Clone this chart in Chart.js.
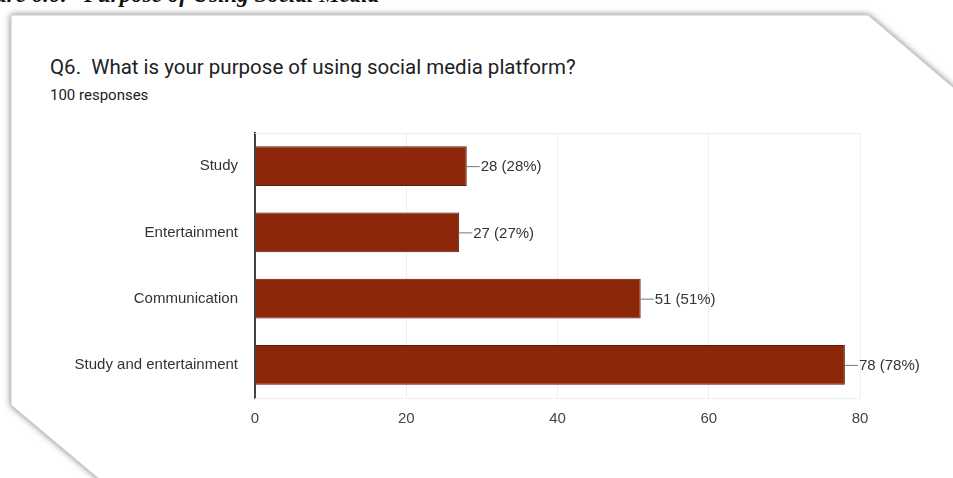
<!DOCTYPE html>
<html>
<head>
<meta charset="utf-8">
<script src="https://cdn.jsdelivr.net/npm/chart.js@4.4.1/dist/chart.umd.min.js"></script>
<style>
  html, body { margin: 0; padding: 0; background: #fff; }
  #wrap { position: relative; width: 953px; height: 478px; overflow: hidden; background: #fff; }
  #card { position: absolute; left: 0; top: 0; }
  .cap { position: absolute; top: -16px; font: italic bold 23px "Liberation Serif", serif; line-height: 22px; color: #111; white-space: nowrap; }
  #capPre { right: 885px; }
  #capMain { left: 84px; }
  #title { position: absolute; left: 50px; top: 55px; font: 20.5px Roboto, sans-serif; color: #202124; white-space: nowrap; }
  #subtitle { position: absolute; left: 50px; top: 86px; font: 15px Roboto, sans-serif; color: #202124; }
  #chartBox { position: absolute; left: 0; top: 0; width: 953px; height: 478px; }
</style>
</head>
<body>
<div id="wrap">
  <svg id="card" width="953" height="478">
    <defs>
      <filter id="shadow" x="-10%" y="-10%" width="120%" height="120%">
        <feDropShadow dx="0" dy="0" stdDeviation="3" flood-color="#444" flood-opacity="0.7"/>
      </filter>
    </defs>
    <polygon points="11,15 868,15 1200,297 1200,800 481,800 11,405" fill="#fff" stroke="#c8c8c8" stroke-width="1" filter="url(#shadow)"/>
  </svg>
  <div class="cap" id="capPre">Figure 6.6:</div>
  <div class="cap" id="capMain">Purpose of Using Social Media</div>
  <div id="title">Q6.&nbsp; What is your purpose of using social media platform?</div>
  <div id="subtitle">100 responses</div>
  <div id="chartBox"><canvas id="chart"></canvas></div>
</div>
<script>
const categories = ['Study', 'Entertainment', 'Communication', 'Study and entertainment'];
const counts = [28, 27, 51, 78];
const totalResponses = 100;
const xTicks = [0, 20, 40, 60, 80];

const labelFont = '"Liberation Sans", Arial, sans-serif';

// leader line + "n (p%)" label after each bar, like Google Forms
const valueLabels = {
  id: 'valueLabels',
  afterDatasetsDraw(chart) {
    const ctx = chart.ctx;
    const meta = chart.getDatasetMeta(0);
    ctx.save();
    ctx.font = '15px ' + labelFont;
    ctx.textBaseline = 'middle';
    meta.data.forEach((bar, i) => {
      const v = counts[i];
      const pct = Math.round(v / totalResponses * 100);
      ctx.strokeStyle = '#777';
      ctx.lineWidth = 1;
      ctx.beginPath();
      ctx.moveTo(bar.x, bar.y + 0.5);
      ctx.lineTo(bar.x + 13, bar.y + 0.5);
      ctx.stroke();
      ctx.fillStyle = '#333';
      ctx.fillText(v + ' (' + pct + '%)', bar.x + 14, bar.y + 1);
    });
    ctx.restore();
  }
};

// faint frame lines at top and bottom of plot area
const frameLines = {
  id: 'frameLines',
  beforeDatasetsDraw(chart) {
    const { ctx, chartArea } = chart;
    ctx.save();
    ctx.strokeStyle = '#eeeeee';
    ctx.lineWidth = 1;
    ctx.beginPath();
    ctx.moveTo(chartArea.left, chartArea.top + 0.5);
    ctx.lineTo(chartArea.right, chartArea.top + 0.5);
    ctx.moveTo(chartArea.left, chartArea.bottom + 0.5);
    ctx.lineTo(chartArea.right, chartArea.bottom + 0.5);
    ctx.stroke();
    ctx.restore();
  }
};

new Chart(document.getElementById('chart'), {
  type: 'bar',
  data: {
    labels: categories,
    datasets: [{
      data: counts,
      backgroundColor: '#8d2709',
      borderColor: '#5e1a06',
      borderWidth: 1,
      borderSkipped: 'left',
      barPercentage: 0.6,
      categoryPercentage: 1.0
    }]
  },
  options: {
    indexAxis: 'y',
    responsive: true,
    maintainAspectRatio: false,
    animation: false,
    layout: { padding: { left: 0, right: 93, top: 133, bottom: 40 } },
    plugins: { legend: { display: false }, tooltip: { enabled: false } },
    scales: {
      x: {
        min: 0,
        max: 80,
        afterBuildTicks: (s) => { s.ticks = xTicks.map(v => ({ value: v })); },
        afterFit: (s) => { s.height = 40; },
        grid: { color: '#efefef', drawTicks: false },
        border: { display: false },
        ticks: { padding: 12, color: '#444', font: { family: labelFont, size: 15 } }
      },
      y: {
        afterFit: (s) => { s.width = 255; },
        grid: { display: false, drawTicks: false },
        border: { display: true, color: '#444', width: 2 },
        ticks: { padding: 17, color: '#333', font: { family: labelFont, size: 15 } }
      }
    }
  },
  plugins: [frameLines, valueLabels]
});
</script>
</body>
</html>
